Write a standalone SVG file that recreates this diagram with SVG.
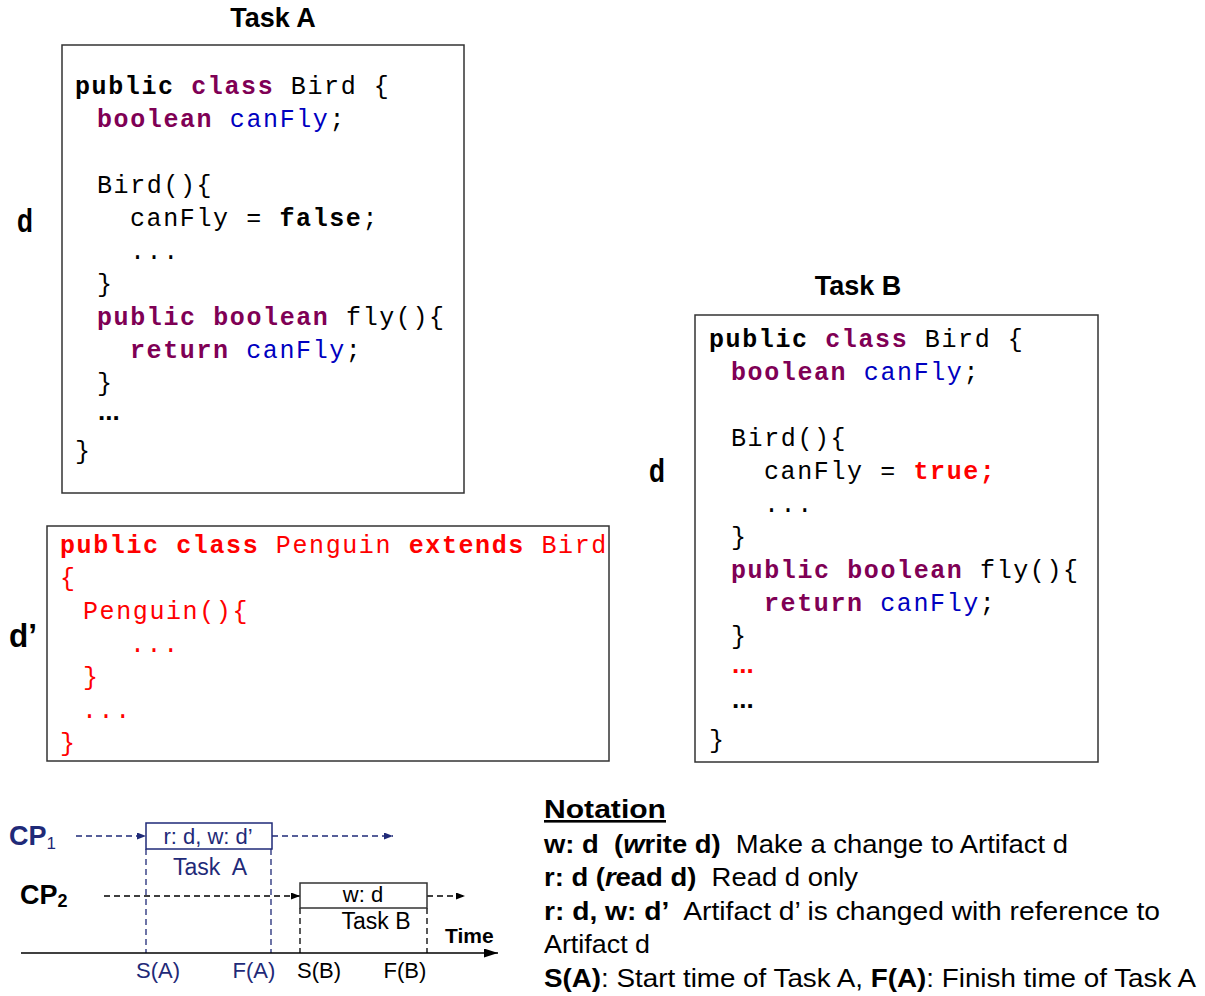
<svg xmlns="http://www.w3.org/2000/svg" width="1205" height="996" viewBox="0 0 1205 996">
<defs>
<style>
.code{font-family:"Liberation Mono","Courier New",monospace;font-size:25px;letter-spacing:1.6px;fill:#000}
.b{font-weight:bold}
.kw{font-weight:bold;fill:#7F0055}
.fld{fill:#0000C0}
.red{fill:#FF0000}
.dots{font-family:"Liberation Sans",Arial,sans-serif;font-weight:bold;font-size:26px}
.box{fill:#fff;stroke:#333;stroke-width:1.5}
.title{font-family:"Liberation Sans",Arial,sans-serif;font-weight:bold;font-size:27px;fill:#000}
.lbl{font-family:"Liberation Sans",Arial,sans-serif;font-weight:bold;font-size:34px;fill:#000}
.sans{font-family:"Liberation Sans",Arial,sans-serif}
.navy{fill:#1F2A78}
.dn{stroke:#1F2A78;stroke-width:1.3;stroke-dasharray:6 4;fill:none}
.dk{stroke:#000;stroke-width:1.3;stroke-dasharray:6 4;fill:none}
.note{font-family:"Liberation Sans",Arial,sans-serif;font-size:26px;fill:#000}
</style>
<marker id="ahN" markerUnits="userSpaceOnUse" markerWidth="9" markerHeight="7" refX="9" refY="3.5" orient="auto"><path d="M0,0 L9,3.5 L0,7 z" fill="#1F2A78"/></marker>
<marker id="ahK" markerUnits="userSpaceOnUse" markerWidth="9" markerHeight="7" refX="9" refY="3.5" orient="auto"><path d="M0,0 L9,3.5 L0,7 z" fill="#000"/></marker>
<marker id="ahT" markerUnits="userSpaceOnUse" markerWidth="14" markerHeight="9" refX="14" refY="4.5" orient="auto"><path d="M0,0 L14,4.5 L0,9 z" fill="#000"/></marker>
</defs>
<rect width="1205" height="996" fill="#fff"/>

<g id="taskA">
<text class="title" x="273" y="27" text-anchor="middle">Task A</text>
<text class="lbl" x="17" y="232" textLength="16" lengthAdjust="spacingAndGlyphs">d</text>
<rect class="box" x="62" y="45" width="402" height="448"/>
<text class="code" xml:space="preserve"><tspan x="75" y="94" class="b">public</tspan> <tspan class="kw">class</tspan> Bird {</text>
<text class="code" xml:space="preserve"><tspan x="97" y="127" class="kw">boolean</tspan> <tspan class="fld">canFly</tspan>;</text>
<text class="code" x="97" y="193">Bird(){</text>
<text class="code" xml:space="preserve"><tspan x="130" y="226">canFly = </tspan><tspan class="b">false</tspan>;</text>
<text class="code" x="130" y="259">...</text>
<text class="code" x="97" y="292">}</text>
<text class="code" xml:space="preserve"><tspan x="97" y="325" class="kw">public boolean</tspan> fly(){</text>
<text class="code" xml:space="preserve"><tspan x="130" y="358" class="kw">return</tspan> <tspan class="fld">canFly</tspan>;</text>
<text class="code" x="97" y="391">}</text>
<text class="dots" x="98" y="420">...</text>
<text class="code" x="75" y="459">}</text>
</g>

<g id="penguin">
<text class="lbl" x="9" y="647" textLength="28" lengthAdjust="spacingAndGlyphs">d’</text>
<rect class="box" x="47" y="526" width="562" height="235"/>
<text class="code red" xml:space="preserve"><tspan x="60" y="553" class="b">public class</tspan> Penguin <tspan class="b">extends</tspan> Bird</text>
<text class="code red" x="60" y="586">{</text>
<text class="code red" x="83" y="619">Penguin(){</text>
<text class="code red" x="130" y="652">...</text>
<text class="code red" x="83" y="685">}</text>
<text class="code red" x="82" y="718">...</text>
<text class="code red" x="60" y="751">}</text>
</g>

<g id="taskB">
<text class="title" x="858" y="295" text-anchor="middle">Task B</text>
<text class="lbl" x="649" y="482" textLength="16" lengthAdjust="spacingAndGlyphs">d</text>
<rect class="box" x="695" y="315" width="403" height="447"/>
<text class="code" xml:space="preserve"><tspan x="709" y="347" class="b">public</tspan> <tspan class="kw">class</tspan> Bird {</text>
<text class="code" xml:space="preserve"><tspan x="731" y="380" class="kw">boolean</tspan> <tspan class="fld">canFly</tspan>;</text>
<text class="code" x="731" y="446">Bird(){</text>
<text class="code" xml:space="preserve"><tspan x="764" y="479">canFly = </tspan><tspan class="b red">true;</tspan></text>
<text class="code" x="764" y="512">...</text>
<text class="code" x="731" y="545">}</text>
<text class="code" xml:space="preserve"><tspan x="731" y="578" class="kw">public boolean</tspan> fly(){</text>
<text class="code" xml:space="preserve"><tspan x="764" y="611" class="kw">return</tspan> <tspan class="fld">canFly</tspan>;</text>
<text class="code" x="731" y="644">}</text>
<text class="dots red" x="732" y="673">...</text>
<text class="dots" x="732" y="708">...</text>
<text class="code" x="709" y="748">}</text>
</g>

<g id="cp-labels">
<text class="sans navy" font-weight="bold" font-size="27" x="9" y="845">CP<tspan font-size="17" font-weight="normal" y="849">1</tspan></text>
<text class="sans" font-weight="bold" font-size="27" x="20" y="904">CP<tspan font-size="18" y="907">2</tspan></text>
</g>

<g id="connectors">
<line class="dn" x1="76" y1="836" x2="146" y2="836" marker-end="url(#ahN)"/>
<line class="dn" x1="272" y1="836" x2="393" y2="836" marker-end="url(#ahN)"/>
<line class="dk" x1="104" y1="896" x2="300" y2="896" marker-end="url(#ahK)"/>
<line class="dk" x1="427" y1="896" x2="465" y2="896" marker-end="url(#ahK)"/>
<line class="dn" x1="146" y1="849" x2="146" y2="953"/>
<line class="dn" x1="271" y1="849" x2="271" y2="953"/>
<line class="dk" x1="300" y1="908" x2="300" y2="953"/>
<line class="dk" x1="427" y1="908" x2="427" y2="953"/>
<line x1="21" y1="953" x2="498" y2="953" stroke="#000" stroke-width="1.5" marker-end="url(#ahT)"/>
</g>

<g id="boxA">
<rect x="146" y="823" width="126" height="26" fill="#fff" stroke="#1F2A78" stroke-width="1.5"/>
<text class="sans navy" font-size="22" x="208" y="844" text-anchor="middle">r: d, w: d’</text>
<text class="sans navy" font-size="23" x="210" y="875" text-anchor="middle" xml:space="preserve">Task  A</text>
</g>

<g id="boxB">
<rect x="300" y="883" width="127" height="25" fill="#fff" stroke="#333" stroke-width="1.5"/>
<text class="sans" font-size="22" x="363" y="902" text-anchor="middle">w: d</text>
<text class="sans" font-size="23" x="376" y="929" text-anchor="middle">Task B</text>
</g>

<g id="axis-labels">
<text class="sans" font-weight="bold" font-size="21" x="445" y="943">Time</text>
<text class="sans navy" font-size="22" x="158" y="978" text-anchor="middle">S(A)</text>
<text class="sans navy" font-size="22" x="254" y="978" text-anchor="middle">F(A)</text>
<text class="sans" font-size="22" x="319" y="978" text-anchor="middle">S(B)</text>
<text class="sans" font-size="22" x="405" y="978" text-anchor="middle">F(B)</text>
</g>

<g id="notation">
<text class="note" font-weight="bold" x="544" y="818" text-decoration="underline" textLength="122" lengthAdjust="spacingAndGlyphs">Notation</text>
<text class="note" xml:space="preserve" x="544" y="853" textLength="524" lengthAdjust="spacingAndGlyphs"><tspan font-weight="bold">w: d  (<tspan font-style="italic">w</tspan>rite d)</tspan>  Make a change to Artifact d</text>
<text class="note" xml:space="preserve" x="544" y="886" textLength="314" lengthAdjust="spacingAndGlyphs"><tspan font-weight="bold">r: d (<tspan font-style="italic">r</tspan>ead d)</tspan>  Read d only</text>
<text class="note" xml:space="preserve" x="544" y="920" textLength="616" lengthAdjust="spacingAndGlyphs"><tspan font-weight="bold">r: d, w: d’</tspan>  Artifact d’ is changed with reference to</text>
<text class="note" x="544" y="953" textLength="106" lengthAdjust="spacingAndGlyphs">Artifact d</text>
<text class="note" xml:space="preserve" x="544" y="987" textLength="652" lengthAdjust="spacingAndGlyphs"><tspan font-weight="bold">S(A)</tspan>: Start time of Task A, <tspan font-weight="bold">F(A)</tspan>: Finish time of Task A</text>
</g>
</svg>
